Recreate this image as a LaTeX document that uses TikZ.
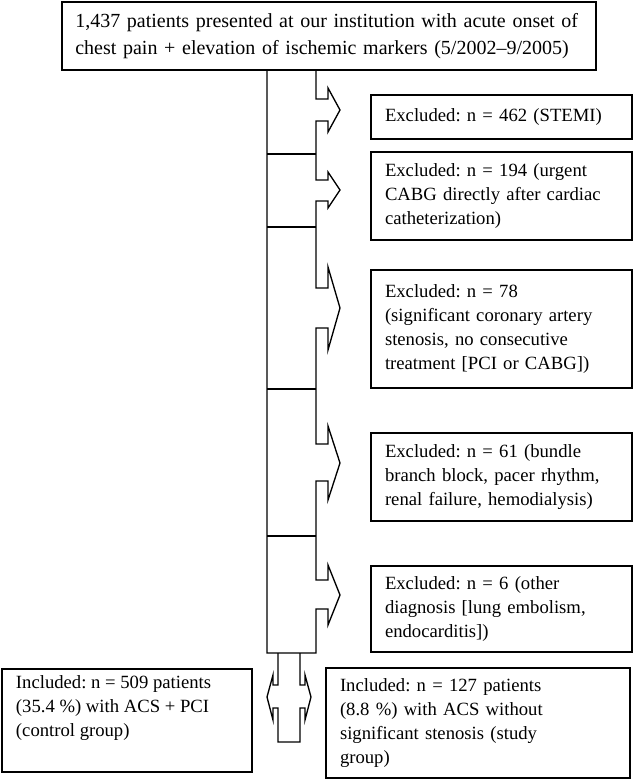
\documentclass[tikz,border=0pt]{standalone}
\usepackage{fontspec}
\setmainfont{Liberation Serif}
\frenchspacing
\begin{document}
\begin{tikzpicture}[x=0.75pt,y=-0.75pt,line width=1pt,line join=miter,
  box/.style={draw,line width=1pt,align=left,inner xsep=10.5pt,inner ysep=4pt,
    font=\fontsize{14pt}{18pt}\selectfont},
  exbox/.style={box,text width=174.75pt,minimum height=#1}]
\useasboundingbox (0,0) rectangle (638,782);

\node[box,text width=380.5pt,inner xsep=10pt,minimum height=51pt,
  font=\fontsize{15pt}{20pt}\selectfont] (top) at (329,36)
  {1,437 patients presented at our institution with acute onset of\\
   chest pain + elevation of ischemic markers (5/2002--9/2005)};

\node[exbox=33pt] (e1) at (501.5,117) {Excluded: n = 462 (STEMI)};
\node[exbox=66pt] (e2) at (501.5,196) {Excluded: n = 194 (urgent\\CABG directly after cardiac\\catheterization)};
\node[exbox=88.5pt] (e3) at (501.5,329) {Excluded: n = 78\\(significant coronary artery\\stenosis, no consecutive\\treatment [PCI or CABG])};
\node[exbox=66pt] (e4) at (501.5,477) {Excluded: n = 61 (bundle\\branch block, pacer rhythm,\\renal failure, hemodialysis)};
\node[exbox=64.5pt] (e5) at (501.5,609) {Excluded: n = 6 (other\\diagnosis [lung embolism,\\endocarditis])};

\node[box,inner ysep=5pt] (bl) at (127,720.5)
  {\parbox[c][67.25pt][t]{166.5pt}{\raggedright Included: n = 509 patients\\(35.4 \%) with ACS + PCI\\(control group)}};
\node[box,text width=207pt,minimum height=82.5pt] (br) at (478,723)
  {Included: n = 127 patients\\(8.8 \%) with ACS without\\significant stenosis (study\\group)};

% trunk with block arrows
\draw (267,70) -- (267,653) -- (316,653)
  -- (316,609) -- (328,609) -- (328,625) -- (340,595) -- (328,565) -- (328,580) -- (316,580)
  -- (316,481) -- (328,481) -- (328,500) -- (340,463) -- (328,426) -- (328,444) -- (316,444)
  -- (316,328) -- (328,328) -- (328,350) -- (340,308) -- (328,267) -- (328,288) -- (316,288)
  -- (316,201) -- (328,201) -- (328,208) -- (340,190) -- (328,172) -- (328,180) -- (316,180)
  -- (316,121) -- (328,121) -- (328,132) -- (340,110) -- (328,88) -- (328,99) -- (316,99)
  -- (316,70);
\foreach \yy in {154,227,389,536} \draw (267,\yy) -- (316,\yy);

% double arrow at the bottom
\draw (278,653) -- (278,685) -- (273,685) -- (273,675) -- (267,697) -- (273,720) -- (273,708)
  -- (278,708) -- (278,742) -- (300,742) -- (300,708) -- (305,708) -- (305,720) -- (311,697)
  -- (305,675) -- (305,685) -- (300,685) -- (300,653);
\end{tikzpicture}
\end{document}
